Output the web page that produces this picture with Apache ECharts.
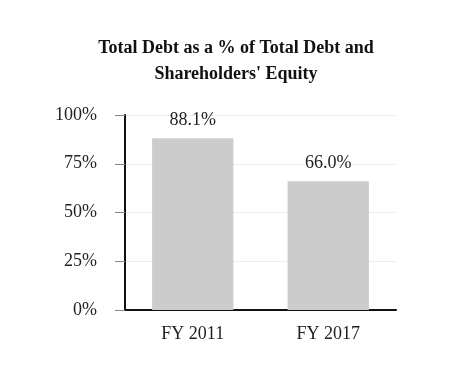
<!DOCTYPE html>
<html><head><meta charset="utf-8">
<script src="https://cdn.jsdelivr.net/npm/echarts@6/dist/echarts.min.js"></script>
<style>html,body{margin:0;padding:0;background:#fff}#c{width:476px;height:366px}</style>
</head><body><div id="c"></div>
<script>
const categories = ['FY 2011', 'FY 2017'];
const values = [88.1, 66.0];
const yTicks = [0, 25, 50, 75, 100];

const chart = echarts.init(document.getElementById('c'));
chart.setOption({
  animation: false,
  title: {
    text: "Total Debt as a % of Total Debt and\nShareholders' Equity",
    left: 231, top: 30, textAlign: 'center',
    textStyle: {fontFamily: 'Liberation Serif', fontWeight: 'bold', fontSize: 18, lineHeight: 26, color: '#111'}
  },
  grid: {left: 125, right: 80, top: 115, bottom: 56, containLabel: false},
  xAxis: {
    type: 'category', data: categories,
    axisLine: {lineStyle: {color: '#111', width: 2}},
    axisTick: {show: false},
    axisLabel: {fontFamily: 'Liberation Serif', fontSize: 18, color: '#222', margin: 15}
  },
  yAxis: {
    type: 'value', min: 0, max: 100, interval: 25,
    axisLine: {show: true, lineStyle: {color: '#111', width: 2}},
    axisTick: {show: true, length: 10, lineStyle: {color: '#888'}},
    splitLine: {lineStyle: {color: '#eeeeee'}},
    axisLabel: {fontFamily: 'Liberation Serif', fontSize: 18, color: '#222', margin: 28,
      formatter: v => yTicks.includes(v) ? v + '%' : ''}
  },
  series: [{
    type: 'bar', data: values, barWidth: '60%',
    itemStyle: {color: '#cccccc'},
    label: {show: true, position: 'top', distance: 9, fontFamily: 'Liberation Serif', fontSize: 18, color: '#222',
      formatter: p => p.value.toFixed(1) + '%'}
  }]
});
</script></body></html>
